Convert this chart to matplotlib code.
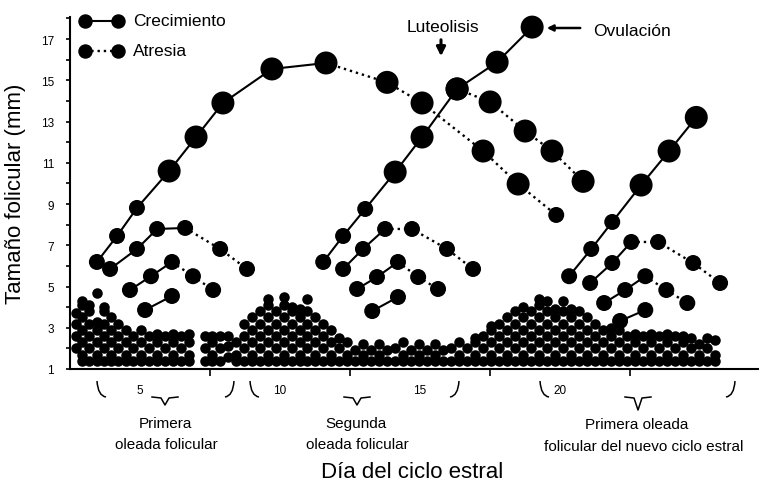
import matplotlib
matplotlib.use('Agg')
import matplotlib.pyplot as plt
from matplotlib.lines import Line2D
from matplotlib.patches import PathPatch, FancyArrowPatch
from matplotlib.path import Path

plt.rcParams['font.family'] = ['Liberation Sans', 'DejaVu Sans']

# --- folículos grandes: días, tamaño (mm), índice del último punto de crecimiento ---
# primera oleada
o1_dom_dia = [3.46, 4.18, 4.89, 6.04, 7.0, 7.96, 9.71, 11.64, 13.82, 15.07, 17.25, 18.5, 19.86]
o1_dom_mm = [6.19, 7.45, 8.81, 10.6, 12.25, 13.9, 15.55, 15.84, 14.9, 13.9, 11.57, 9.97, 8.47]
o1_dom_pico = 7
o1_s1_dia = [3.93, 4.89, 5.61, 6.61, 7.86, 8.82]
o1_s1_mm = [5.85, 6.82, 7.79, 7.84, 6.82, 5.85]
o1_s1_pico = 3
o1_s2_dia = [4.64, 5.39, 6.14, 6.89, 7.61]
o1_s2_mm = [4.83, 5.5, 6.19, 5.5, 4.83]
o1_s2_pico = 2
o1_s3_dia = [5.18, 6.14]
o1_s3_mm = [3.86, 4.54]
o1_s3_pico = 1

# segunda oleada
o2_dom_dia = [11.54, 12.25, 13.04, 14.11, 15.07, 16.32, 17.75, 19.0]
o2_dom_mm = [6.19, 7.45, 8.76, 10.55, 12.25, 14.58, 15.88, 17.58]
o2_dom_pico = 7
o2_co_dia = [16.32, 17.5, 18.75, 19.71, 20.82]
o2_co_mm = [14.58, 13.95, 12.54, 11.57, 10.1]
o2_co_pico = 0
o2_s1_dia = [12.25, 12.96, 13.75, 14.71, 15.96, 16.89]
o2_s1_mm = [5.85, 6.82, 7.79, 7.79, 6.82, 5.85]
o2_s1_pico = 2
o2_s2_dia = [12.75, 13.46, 14.21, 14.93, 15.64]
o2_s2_mm = [4.88, 5.46, 6.19, 5.46, 4.88]
o2_s2_pico = 2
o2_s3_dia = [13.29, 14.21]
o2_s3_mm = [3.81, 4.49]
o2_s3_pico = 1

# primera oleada del nuevo ciclo
o3_dom_dia = [20.32, 21.11, 21.86, 22.89, 23.89, 24.86]
o3_dom_mm = [5.5, 6.82, 8.13, 9.92, 11.57, 13.2]
o3_dom_pico = 5
o3_s1_dia = [21.07, 21.86, 22.54, 23.5, 24.75, 25.71]
o3_s1_mm = [5.17, 6.14, 7.16, 7.16, 6.14, 5.17]
o3_s1_pico = 2
o3_s2_dia = [21.57, 22.32, 23.04, 23.79, 24.54]
o3_s2_mm = [4.2, 4.83, 5.5, 4.83, 4.2]
o3_s2_pico = 2
o3_s3_dia = [22.14, 23.04]
o3_s3_mm = [3.33, 3.86]
o3_s3_pico = 1

# --- folículos pequeños (fondo): día de cada columna y tamaños en ella ---
bg_dias = [2.71, 2.93, 3.18, 3.46, 3.71, 3.96, 4.21, 4.5, 4.75, 5.04, 5.32, 5.61, 5.89,
           6.18, 6.46, 6.75, 7.32, 7.57, 7.86, 8.14, 8.43,
           8.71, 9.0, 9.29, 9.57, 9.86, 10.14, 10.43, 10.71, 10.96, 11.25, 11.54, 11.82,
           12.11, 12.39, 12.68, 12.96, 13.25, 13.54, 13.82, 14.11, 14.39, 14.68, 14.96,
           15.25, 15.54, 15.82, 16.11, 16.39, 16.68, 16.96,
           17.25, 17.54, 17.82, 18.11, 18.39, 18.68, 18.96, 19.25, 19.54, 19.82, 20.11,
           20.39, 20.68, 20.96, 21.25, 21.54, 21.82, 22.11, 22.39, 22.68, 22.96, 23.25,
           23.54, 23.82, 24.11, 24.39, 24.68, 24.96, 25.25, 25.54]
bg_mm = [[2.0, 2.6, 3.2, 3.7], [1.4, 1.7, 2.3, 2.9, 3.5, 4.1, 4.3], [1.4, 2.0, 2.6, 3.2, 3.8, 4.1],
         [1.4, 1.7, 2.3, 2.9, 3.3, 4.7], [1.4, 2.0, 2.6, 3.2, 3.8, 4.0], [1.4, 1.7, 2.3, 2.9, 3.5],
         [1.4, 2.0, 2.6, 3.2], [1.4, 1.7, 2.3, 2.9], [1.4, 2.0, 2.6], [1.4, 1.7, 2.3, 2.9],
         [1.4, 2.0, 2.6], [1.4, 1.7, 2.3, 2.7], [1.4, 2.0, 2.6],
         [1.4, 1.7, 2.3, 2.7], [1.4, 2.0, 2.6], [1.4, 1.7, 2.3, 2.7], [1.4, 2.0, 2.6],
         [1.4, 1.7, 2.3, 2.6], [1.4, 2.0, 2.6], [1.6, 2.1, 2.6], [1.4, 1.7, 2.3],
         [1.4, 2.0, 2.6, 3.2], [1.4, 1.7, 2.3, 2.9, 3.5], [1.4, 2.0, 2.6, 3.2, 3.8],
         [1.4, 1.7, 2.3, 2.9, 3.5, 4.1, 4.4], [1.4, 2.0, 2.6, 3.2, 3.8],
         [1.4, 1.7, 2.3, 2.9, 3.5, 4.1, 4.5], [1.4, 2.0, 2.6, 3.2, 3.8, 4.0],
         [1.4, 1.7, 2.3, 2.9, 3.5, 3.9], [1.4, 2.0, 2.6, 3.2, 3.8, 4.4],
         [1.4, 1.7, 2.3, 2.9, 3.5], [1.4, 2.0, 2.6, 3.2], [1.4, 1.7, 2.3, 2.9],
         [1.4, 2.0, 2.5], [1.4, 1.7, 2.3], [1.4, 1.9], [1.4, 1.7, 2.2], [1.4, 1.9],
         [1.4, 1.7, 2.2], [1.4, 1.9], [1.4, 2.0], [1.4, 1.7, 2.3], [1.4, 1.9], [1.4, 1.7, 2.2],
         [1.4, 1.9], [1.4, 1.7, 2.2], [1.4, 1.9], [1.4, 2.0], [1.4, 1.7, 2.3], [1.4, 2.0],
         [1.4, 1.7, 2.3, 2.5],
         [1.4, 2.0, 2.6], [1.4, 1.7, 2.3, 2.9, 3.1], [1.4, 2.0, 2.6, 3.2],
         [1.4, 1.7, 2.3, 2.9, 3.5], [1.4, 2.0, 2.6, 3.2, 3.8], [1.4, 1.7, 2.3, 2.9, 3.5, 4.0],
         [1.4, 2.0, 2.6, 3.2, 3.8], [1.4, 1.7, 2.3, 2.9, 3.5, 4.1, 4.4],
         [1.4, 2.0, 2.6, 3.2, 3.8, 4.3], [1.4, 1.7, 2.3, 2.9, 3.5, 3.9],
         [1.4, 2.0, 2.6, 3.2, 3.8, 4.3],
         [1.4, 1.7, 2.3, 2.9, 3.5, 3.9], [1.4, 2.0, 2.6, 3.2, 3.8], [1.4, 1.7, 2.3, 2.9, 3.5],
         [1.4, 2.0, 2.6, 3.2], [1.4, 1.7, 2.3, 2.9], [1.4, 2.0, 2.6, 3.0], [1.4, 1.7, 2.3, 2.9],
         [1.4, 2.0, 2.6], [1.4, 1.7, 2.3, 2.7], [1.4, 2.0, 2.6], [1.4, 1.7, 2.3, 2.7],
         [1.4, 2.0, 2.6], [1.4, 1.7, 2.3, 2.7], [1.4, 2.0, 2.6], [1.4, 1.7, 2.3, 2.6],
         [1.4, 2.0, 2.5], [1.4, 1.7, 2.2], [1.4, 2.0, 2.5], [1.4, 1.7, 2.4]]

x_ticks = [7.5, 12.5, 17.5, 22.5]
x_label_pos = [5, 10, 15, 20]
x_label_txt = ['5', '10', '15', '20']

foliculos = [
    (o1_dom_dia, o1_dom_mm, o1_dom_pico), (o1_s1_dia, o1_s1_mm, o1_s1_pico),
    (o1_s2_dia, o1_s2_mm, o1_s2_pico), (o1_s3_dia, o1_s3_mm, o1_s3_pico),
    (o2_dom_dia, o2_dom_mm, o2_dom_pico), (o2_co_dia, o2_co_mm, o2_co_pico),
    (o2_s1_dia, o2_s1_mm, o2_s1_pico), (o2_s2_dia, o2_s2_mm, o2_s2_pico),
    (o2_s3_dia, o2_s3_mm, o2_s3_pico),
    (o3_dom_dia, o3_dom_mm, o3_dom_pico), (o3_s1_dia, o3_s1_mm, o3_s1_pico),
    (o3_s2_dia, o3_s2_mm, o3_s2_pico), (o3_s3_dia, o3_s3_mm, o3_s3_pico),
]

W, H = 759, 489


def fx(x):
    return x / W


def fy(y):
    return 1 - y / H


def tam(v):
    # two marker classes in the original: big (>= ~9.5 mm) and medium
    d = 23 if v >= 9.5 else 16
    return (d * 0.72) ** 2


fig = plt.figure(figsize=(7.59, 4.89), dpi=100)
ax = fig.add_axes([fx(70), fy(370), fx(759) - fx(70), fy(18) - fy(370)])
ax.set_xlim(2.5, 27.1)
ax.set_ylim(1, 18.07)

# small follicles cloud
xs, ys = [], []
for d, col in zip(bg_dias, bg_mm):
    for v in col:
        xs.append(d)
        ys.append(v)
ax.scatter(xs, ys, s=(10.5 * 0.72) ** 2, c='k', linewidths=0, zorder=2, clip_on=False)

for dias, mm, pico in foliculos:
    if pico > 0:
        ax.plot(dias[:pico + 1], mm[:pico + 1], '-', color='k', lw=1.5, zorder=2)
    if pico < len(dias) - 1:
        ax.plot(dias[pico:], mm[pico:], ':', color='k', lw=1.7, zorder=2)
    ax.scatter(dias, mm, s=[tam(v) for v in mm], c='k', linewidths=0, zorder=3, clip_on=False)

# axes styling
for s in ['top', 'right']:
    ax.spines[s].set_visible(False)
for s in ['left', 'bottom']:
    ax.spines[s].set_linewidth(1.5)

ax.set_yticks(range(1, 19))
ax.set_yticklabels([str(v) if v % 2 else '' for v in range(1, 19)])
ax.tick_params(axis='y', length=3, width=1.2, pad=8.5, labelsize=8.5)
ax.set_xticks(x_ticks)
ax.set_xticklabels([''] * len(x_ticks))
ax.set_xticks(x_label_pos, minor=True)
ax.set_xticklabels(x_label_txt, minor=True)
ax.tick_params(axis='x', which='major', length=5, width=1.2)
ax.tick_params(axis='x', which='minor', length=0, pad=11, labelsize=8.5)

ax.set_ylabel('Tamaño folicular (mm)', fontsize=16)
ax.yaxis.set_label_coords(-0.064, 0.5)
ax.set_xlabel('Día del ciclo estral', fontsize=16)
ax.xaxis.set_label_coords(0.496, -0.26)


# braces under the axis (only the fragments visible in the original)
def curva(p0, c, p1):
    verts = [(fx(p0[0]), fy(p0[1])), (fx(c[0]), fy(c[1])), (fx(p1[0]), fy(p1[1]))]
    path = Path(verts, [Path.MOVETO, Path.CURVE3, Path.CURVE3])
    fig.add_artist(PathPatch(path, fill=False, lw=1.1, color='k', transform=fig.transFigure))


def quiebre(pts):
    fig.add_artist(Line2D([fx(p[0]) for p in pts], [fy(p[1]) for p in pts], lw=1.1,
                          color='k', transform=fig.transFigure))


for left, right, mid, tip in [(97, 234, 165, 406), (250, 459, 357, 406), (540, 735, 638, 411)]:
    curva((left, 382), (left + 1, 397), (left + 9, 398))
    curva((right, 382), (right - 1, 397), (right - 9, 398))
    quiebre([(mid - 13, 398), (mid - 4, 399), (mid, tip), (mid + 4, 399), (mid + 13, 398)])

for x, y, t in [(165, 424, 'Primera'), (166, 445, 'oleada folicular'),
                (356, 424, 'Segunda'), (357, 445, 'oleada folicular'),
                (637, 425, 'Primera oleada'), (644, 447, 'folicular del nuevo ciclo estral')]:
    fig.text(fx(x), fy(y), t, ha='center', va='center', fontsize=11)

# legend
fig.add_artist(Line2D([fx(85), fx(118)], [fy(22), fy(22)], color='k', lw=1.5, ls='-',
                      marker='o', ms=9.4, transform=fig.transFigure))
fig.add_artist(Line2D([fx(85), fx(118)], [fy(52), fy(52)], color='k', lw=1.7, ls=':',
                      marker='o', ms=9.4, transform=fig.transFigure))
fig.text(fx(133), fy(22), 'Crecimiento', ha='left', va='center', fontsize=12.5)
fig.text(fx(133), fy(52), 'Atresia', ha='left', va='center', fontsize=12.5)

# annotations
fig.text(fx(443), fy(28), 'Luteolisis', ha='center', va='center', fontsize=12.5)
fig.add_artist(FancyArrowPatch((fx(441), fy(38)), (fx(441), fy(60)), arrowstyle='-|>',
                               mutation_scale=13, lw=2.2, color='k', transform=fig.transFigure))
fig.text(fx(593), fy(31), 'Ovulación', ha='left', va='center', fontsize=12.5)
fig.add_artist(FancyArrowPatch((fx(583), fy(29)), (fx(544), fy(29)), arrowstyle='-|>',
                               mutation_scale=9, lw=1.8, color='k', transform=fig.transFigure))

fig.savefig('out.png', dpi=100)
